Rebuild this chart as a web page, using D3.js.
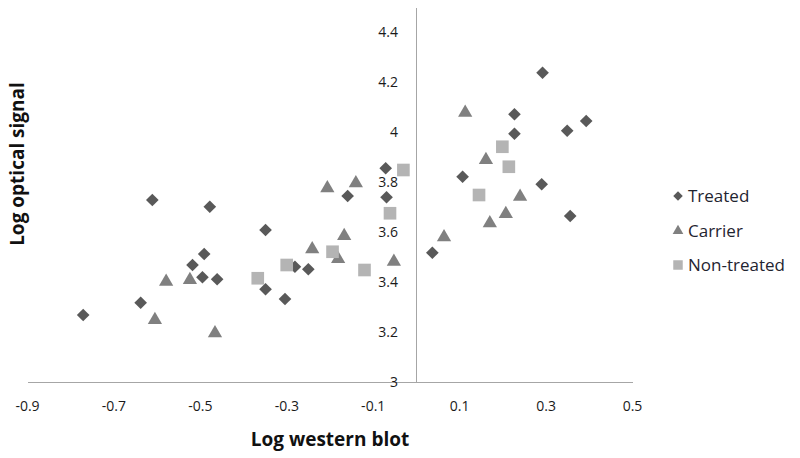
<!DOCTYPE html>
<html lang="en">
<head>
<meta charset="utf-8">
<script src="https://d3js.org/d3.v7.min.js"></script>
<style>
    body { margin: 0; background: #fff; }
    .axis path { stroke: #a6a6a6; shape-rendering: crispEdges; }
    .axis text { font-family: "Open Sans", sans-serif; font-size: 14px; fill: #1a1a1a; }
</style>
</head>
<body>
<svg id="chart" width="800" height="458"></svg>
<script>
    // tick labels
    var xTicks = [-0.9, -0.7, -0.5, -0.3, -0.1, 0.1, 0.3, 0.5];
    var yTicks = [3, 3.2, 3.4, 3.6, 3.8, 4, 4.2, 4.4];

    // Treated
    var treatedX = [-0.770, -0.610, -0.477, -0.348, -0.490, -0.517, -0.494, -0.460, -0.637, -0.348, -0.303, -0.280, -0.249, -0.158, -0.068, -0.070,
                    0.293, 0.228, 0.228, 0.350, 0.394, 0.108, 0.291, 0.357, 0.038];
    var treatedY = [3.268, 3.728, 3.701, 3.608, 3.512, 3.468, 3.419, 3.411, 3.317, 3.371, 3.332, 3.461, 3.451, 3.744, 3.739, 3.855,
                    4.237, 4.071, 3.993, 4.005, 4.044, 3.821, 3.791, 3.664, 3.517];

    // Carrier
    var carrierX = [-0.578, -0.523, -0.604, -0.465, -0.240, -0.180, -0.166, -0.205, -0.139, -0.051,
                    0.114, 0.162, 0.241, 0.208, 0.171, 0.065];
    var carrierY = [3.401, 3.408, 3.248, 3.195, 3.531, 3.492, 3.584, 3.775, 3.795, 3.481,
                    4.077, 3.888, 3.741, 3.672, 3.635, 3.579];

    // Non-treated
    var nonTreatedX = [-0.366, -0.299, -0.193, -0.119, -0.060, -0.029, 0.200, 0.215, 0.146];
    var nonTreatedY = [3.415, 3.468, 3.521, 3.448, 3.675, 3.848, 3.941, 3.861, 3.748];

    var series = [
        {name: "Treated", xs: treatedX, ys: treatedY, color: "#595959", shape: "diamond"},
        {name: "Carrier", xs: carrierX, ys: carrierY, color: "#808080", shape: "triangle"},
        {name: "Non-treated", xs: nonTreatedX, ys: nonTreatedY, color: "#b4b4b4", shape: "square"}
    ];

    var svg = d3.select("#chart");

    var x = d3.scaleLinear().domain([-0.9, 0.5]).range([27, 632]);
    var y = d3.scaleLinear().domain([3, 4.5]).range([382, 7]);

    function marker(shape, s) {
        if (shape === "diamond") return d3.symbol().type(d3.symbolSquare).size(80 * s * s)();
        if (shape === "triangle") return d3.symbol().type(d3.symbolTriangle).size(88 * s * s)();
        return d3.symbol().type(d3.symbolSquare).size(160 * s * s)();
    }

    // axes
    svg.append("g")
        .attr("class", "axis")
        .attr("transform", "translate(0," + y(3) + ")")
        .call(d3.axisBottom(x).tickValues(xTicks).tickSize(0).tickPadding(19)
            .tickFormat(d => (+d.toFixed(1)).toString()));

    svg.append("g")
        .attr("class", "axis")
        .attr("transform", "translate(" + x(0) + ",0)")
        .call(d3.axisLeft(y).tickValues(yTicks).tickSize(0).tickPadding(18)
            .tickFormat(d => (+d.toFixed(1)).toString()));

    // points
    series.forEach(function(s) {
        svg.append("g")
            .selectAll("path")
            .data(s.xs.map((v, i) => [v, s.ys[i]]))
            .join("path")
            .attr("d", marker(s.shape, 1))
            .attr("transform", d => "translate(" + x(d[0]) + "," + y(d[1]) + ")" + (s.shape === "diamond" ? " rotate(45)" : ""))
            .attr("fill", s.color);
    });

    // axis titles
    svg.append("text")
        .attr("x", 330)
        .attr("y", 446)
        .attr("text-anchor", "middle")
        .style("font-family", "'Open Sans', sans-serif")
        .style("font-weight", "bold")
        .style("font-size", "19px")
        .style("fill", "#111")
        .text("Log western blot");

    svg.append("text")
        .attr("transform", "translate(24,164) rotate(-90)")
        .attr("text-anchor", "middle")
        .style("font-family", "'Open Sans', sans-serif")
        .style("font-weight", "bold")
        .style("font-size", "19px")
        .style("fill", "#111")
        .text("Log optical signal");

    // legend
    var legend = svg.append("g")
        .selectAll("g")
        .data(series)
        .join("g")
        .attr("transform", (d, i) => "translate(678," + [196, 231, 265][i] + ")");

    legend.append("path")
        .attr("d", d => marker(d.shape, 0.75))
        .attr("transform", d => d.shape === "diamond" ? "rotate(45)" : null)
        .attr("fill", d => d.color);

    legend.append("text")
        .attr("x", 10)
        .attr("dy", "0.35em")
        .style("font-family", "'Open Sans', sans-serif")
        .style("font-size", "17px")
        .style("fill", "#1f2430")
        .text(d => d.name);
</script>
</body>
</html>
